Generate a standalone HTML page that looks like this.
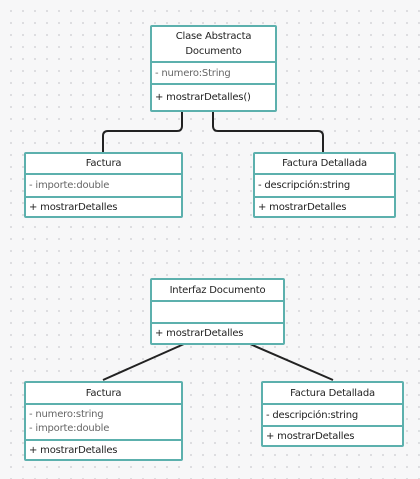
<!DOCTYPE html>
<html><head><meta charset="utf-8"><style>
body{margin:0;width:420px;height:479px;overflow:hidden;background:#f7f7f8;
background-image:radial-gradient(circle,#d4d4d8 0.8px,transparent 1px);background-size:12px 12px;background-position:5px 5px;
font-family:"DejaVu Sans","Liberation Sans",sans-serif;font-size:10px;color:#222;}
.b{position:absolute;border:2px solid #5cb0ad;background:#fff;box-sizing:border-box;border-radius:2px;}
.s{border-bottom:2px solid #5cb0ad;box-sizing:border-box;padding:0 3px;display:flex;flex-direction:column;justify-content:center;white-space:nowrap;letter-spacing:-0.2px}
.s:last-child{border-bottom:none}
.h{align-items:center;text-align:center;}
.g{color:#666}
svg{position:absolute;left:0;top:0}
</style></head><body>
<svg width="420" height="479"><g fill="none" stroke="#222" stroke-width="2">
<path d="M182 111 V126 Q182 131 177 131 H108 Q103 131 103 136 V152"/>
<path d="M213 111 V126 Q213 131 218 131 H318 Q323 131 323 136 V152"/>
<path d="M184 344 L103 380"/><path d="M250 344 L333 380"/></g></svg>

<div class="b" style="left:150px;top:25px;width:127px;height:87px">
<div class="s h" style="height:36px;line-height:15px">Clase Abstracta<br>Documento</div>
<div class="s g" style="height:22px">- numero:String</div>
<div class="s" style="height:25px">+ mostrarDetalles()</div></div>

<div class="b" style="left:24px;top:152px;width:159px;height:66px">
<div class="s h" style="height:21px">Factura</div>
<div class="s g" style="height:23px">- importe:double</div>
<div class="s" style="height:18px">+ mostrarDetalles</div></div>

<div class="b" style="left:253px;top:152px;width:143px;height:66px">
<div class="s h" style="height:21px">Factura Detallada</div>
<div class="s" style="height:23px">- descripción:string</div>
<div class="s" style="height:18px">+ mostrarDetalles</div></div>

<div class="b" style="left:150px;top:278px;width:135px;height:67px">
<div class="s h" style="height:22px">Interfaz Documento</div>
<div class="s" style="height:22px"></div>
<div class="s" style="height:19px">+ mostrarDetalles</div></div>

<div class="b" style="left:24px;top:381px;width:159px;height:80px">
<div class="s h" style="height:22px">Factura</div>
<div class="s g" style="height:36px;line-height:14px">- numero:string<br>- importe:double</div>
<div class="s" style="height:18px">+ mostrarDetalles</div></div>

<div class="b" style="left:261px;top:381px;width:143px;height:66px">
<div class="s h" style="height:22px">Factura Detallada</div>
<div class="s" style="height:22px">- descripción:string</div>
<div class="s" style="height:18px">+ mostrarDetalles</div></div>
</body></html>
